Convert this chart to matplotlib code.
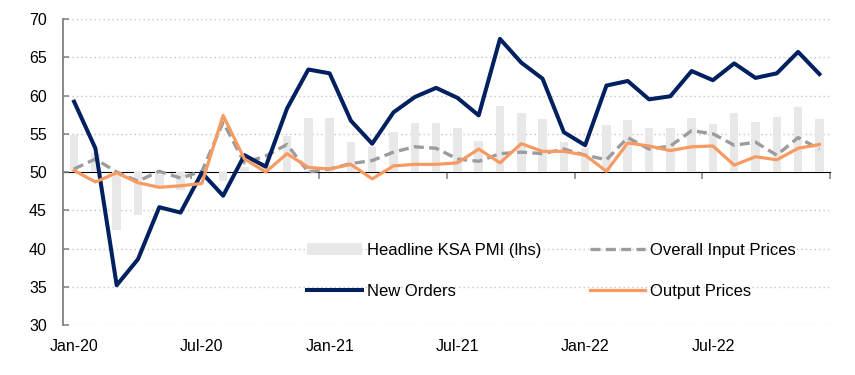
"""Saudi PMI: headline index, new orders and price sub-indices."""

import matplotlib

matplotlib.use("Agg")

import matplotlib.pyplot as plt

plt.rcParams["font.family"] = ["Liberation Sans", "DejaVu Sans"]

# monthly, Jan-20 .. Dec-22
months = [
    "Jan-20", "Feb-20", "Mar-20", "Apr-20", "May-20", "Jun-20",
    "Jul-20", "Aug-20", "Sep-20", "Oct-20", "Nov-20", "Dec-20",
    "Jan-21", "Feb-21", "Mar-21", "Apr-21", "May-21", "Jun-21",
    "Jul-21", "Aug-21", "Sep-21", "Oct-21", "Nov-21", "Dec-21",
    "Jan-22", "Feb-22", "Mar-22", "Apr-22", "May-22", "Jun-22",
    "Jul-22", "Aug-22", "Sep-22", "Oct-22", "Nov-22", "Dec-22",
]
headline_pmi = [
    54.9, 52.5, 42.4, 44.4, 48.1, 47.7,
    50.0, 48.8, 50.7, 51.0, 54.7, 57.0,
    57.1, 53.9, 53.3, 55.2, 56.4, 56.4,
    55.8, 54.1, 58.6, 57.7, 56.9, 53.9,
    53.2, 56.2, 56.8, 55.7, 55.7, 57.0,
    56.3, 57.7, 56.6, 57.2, 58.5, 56.9,
]
new_orders = [
    59.2, 53.1, 35.2, 38.6, 45.4, 44.7,
    49.9, 46.9, 52.2, 50.7, 58.3, 63.4,
    62.9, 56.7, 53.7, 57.8, 59.8, 61.0,
    59.7, 57.4, 67.4, 64.3, 62.2, 55.2,
    53.5, 61.3, 61.9, 59.5, 59.9, 63.2,
    62.0, 64.2, 62.3, 62.9, 65.7, 62.8,
]
input_prices = [
    50.4, 51.7, 50.0, 48.8, 50.1, 49.2,
    50.1, 56.5, 51.2, 52.1, 53.6, 50.0,
    50.4, 51.1, 51.5, 52.6, 53.3, 53.1,
    51.7, 51.4, 52.4, 52.6, 52.4, 53.0,
    52.2, 51.6, 54.5, 53.0, 53.4, 55.4,
    55.0, 53.5, 53.9, 52.2, 54.5, 53.0,
]
output_prices = [
    50.2, 48.7, 49.9, 48.6, 48.0, 48.2,
    48.5, 57.4, 51.7, 50.0, 52.4, 50.6,
    50.4, 51.0, 49.1, 50.8, 51.0, 51.0,
    51.2, 53.0, 51.2, 53.7, 52.7, 52.7,
    52.2, 50.1, 53.8, 53.4, 52.8, 53.3,
    53.4, 50.9, 52.0, 51.6, 53.1, 53.6,
]

NAVY = "#002060"
ORANGE = "#F79B62"
GREY_LINE = "#9C9C9C"
BAR_GREY = "#E8E8E8"
AXIS_GREY = "#808080"


def main() -> None:
    positions = list(range(len(months)))

    figure = plt.figure(figsize=(8.55, 3.75), dpi=100)
    axes = figure.add_axes([0.0742, 0.1333, 0.8966, 0.816])

    bars = axes.bar(
        positions,
        [value - 50.0 for value in headline_pmi],
        bottom=50.0,
        width=0.4,
        color=BAR_GREY,
        zorder=2,
    )
    (orders_line,) = axes.plot(
        positions, new_orders,
        color=NAVY, linewidth=2.9, zorder=4,
    )
    (input_line,) = axes.plot(
        positions, input_prices,
        color=GREY_LINE, linewidth=2.4, dashes=(3.0, 1.6), zorder=3,
    )
    (output_line,) = axes.plot(
        positions, output_prices,
        color=ORANGE, linewidth=2.3, zorder=5,
    )

    axes.set_xlim(-0.5, len(months) - 0.5)
    axes.set_ylim(30, 70)
    axes.set_yticks(range(30, 71, 5))
    axes.set_xticks(positions[::6])
    axes.set_xticklabels(months[::6])

    for level in range(30, 71, 5):
        if level != 50:
            axes.axhline(
                level, color="#C4C4C4", linewidth=1.0,
                linestyle=(0, (1, 2.2)), zorder=1,
            )

    for side in ("top", "right", "bottom"):
        axes.spines[side].set_visible(False)
    axes.spines["left"].set_color(AXIS_GREY)
    axes.spines["left"].set_linewidth(1.3)

    axes.tick_params(axis="x", length=0, pad=10, labelsize=11.5)
    axes.tick_params(
        axis="y", direction="in", length=4, width=1.1,
        color=AXIS_GREY, pad=12, labelsize=11.5,
    )

    # category axis crosses at 50, ticks between categories
    mid_axis = axes.secondary_xaxis(0.5)
    mid_axis.set_xticks([p - 0.5 for p in positions[6::6]] + [len(months) - 0.5])
    mid_axis.set_xticklabels([])
    mid_axis.spines["bottom"].set_color(AXIS_GREY)
    mid_axis.spines["bottom"].set_linewidth(1.5)
    mid_axis.tick_params(
        direction="in", length=5, width=1.1, color=AXIS_GREY,
    )

    legend = axes.legend(
        [bars, orders_line, input_line, output_line],
        [
            "Headline KSA PMI (lhs)",
            "New Orders",
            "Overall Input Prices",
            "Output Prices",
        ],
        ncol=2,
        loc="upper left",
        bbox_to_anchor=(0.318, 0.268),
        frameon=False,
        fontsize=12,
        handlelength=3.3,
        handletextpad=0.3,
        columnspacing=2.9,
        labelspacing=1.55,
        borderpad=0.0,
        borderaxespad=0.0,
    )
    legend.set_zorder(6)

    figure.savefig("out.png", dpi=100)
    plt.close(figure)


if __name__ == "__main__":
    main()
